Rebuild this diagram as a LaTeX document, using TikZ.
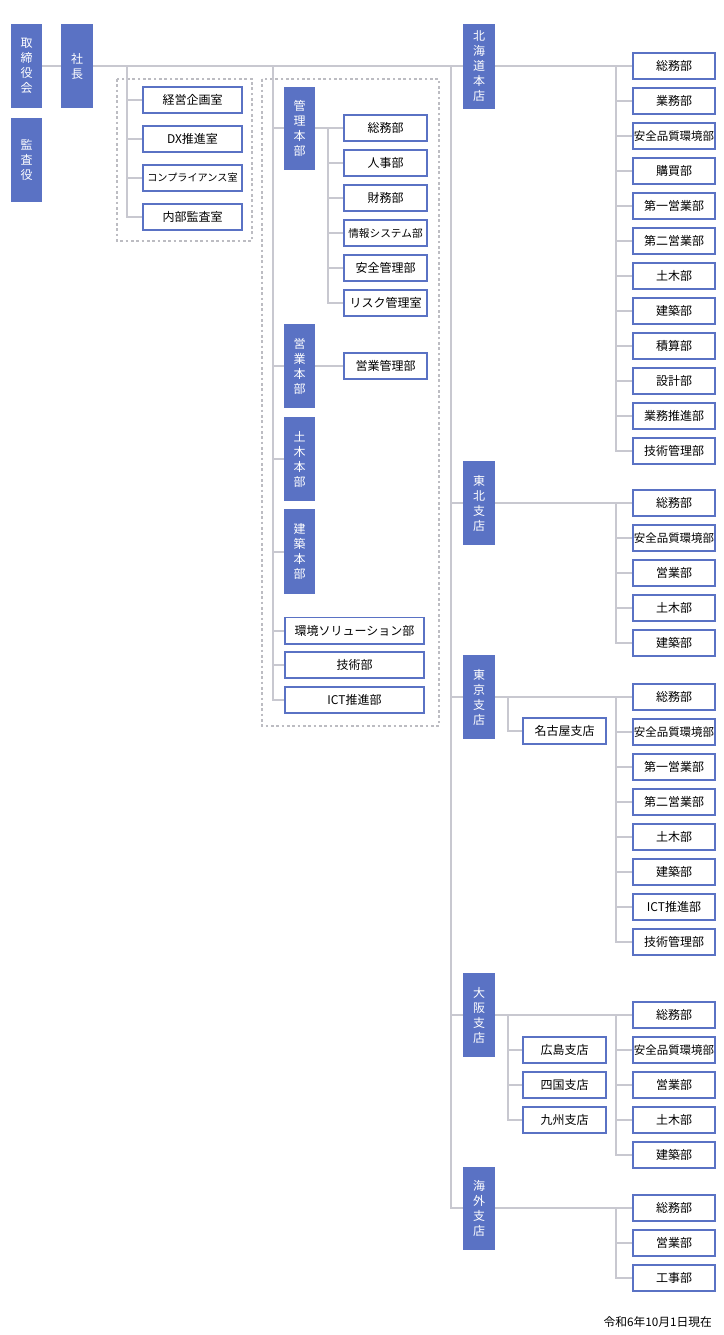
\documentclass[tikz,border=0pt]{standalone}
\usepackage{fontspec}
\setmainfont{Noto Sans CJK JP}
\definecolor{bblue}{HTML}{5A72C4}
\definecolor{lgray}{HTML}{C8C8D0}
\definecolor{dgray}{HTML}{BCBCC2}
\tikzset{
  vbox/.style={fill=bblue, draw=none, text=white, inner sep=0pt, align=center,
    font=\fontsize{9}{11.25}\selectfont},
  wbox/.style={fill=white, draw=bblue, line width=1.3pt, inner sep=0pt,
    font=\fontsize{9}{10}\selectfont},
  ln/.style={draw=lgray, line width=1.5pt},
  grp/.style={draw=dgray, line width=1pt, dash pattern=on 2pt off 2pt},
}
% vertical blue box: name, x1, y1, x2, y2, text
\newcommand\VBx[6]{\node[vbox, minimum width={(#4-#2)*0.75pt}, minimum height={(#5-#3)*0.75pt}]
  (#1) at ({(#2+#4)/2},{(#3+#5)/2}) {#6};}
% white box: name, cx, cy, width(px), text
\newcommand\WBx[5]{\node[wbox, minimum width={#4*0.75pt-1.3pt}, minimum height={28*0.75pt-1.3pt}]
  (#1) at (#2,#3) {#5};}
\begin{document}
\begin{tikzpicture}[x=0.75pt,y=-0.75pt]
\useasboundingbox (0,0) rectangle (724,1335);
% dashed group frames
\draw[grp] (117,79) rectangle (252,241);
\draw[grp] (262,79) rectangle (439,726);

% ---------- nodes ----------
\VBx{tori}{11}{24}{42}{108}{取\\締\\役\\会}
\VBx{kansa}{11}{118}{42}{202}{監\\査\\役}
\VBx{shacho}{61}{24}{93}{108}{社\\長}

\WBx{s1}{192.5}{100}{101}{経営企画室}
\WBx{s2}{192.5}{139}{101}{DX推進室}
\WBx{s3}{192.5}{178}{101}{\fontsize{7.6}{9}\selectfont コンプライアンス室}
\WBx{s4}{192.5}{217}{101}{内部監査室}

\VBx{kanri}{284}{87}{315}{170}{管\\理\\本\\部}
\VBx{eigyo}{284}{324}{315}{408}{営\\業\\本\\部}
\VBx{doboku}{284}{417}{315}{501}{土\\木\\本\\部}
\VBx{kenchiku}{284}{509}{315}{594}{建\\築\\本\\部}
\WBx{kankyo}{354.5}{630.5}{141}{環境ソリューション部}
\WBx{gijutsu}{354.5}{665}{141}{技術部}
\WBx{ict}{354.5}{700}{141}{ICT推進部}

\WBx{k1}{385.5}{128}{85}{総務部}
\WBx{k2}{385.5}{163}{85}{人事部}
\WBx{k3}{385.5}{198}{85}{財務部}
\WBx{k4}{385.5}{233}{85}{\fontsize{8}{9}\selectfont 情報システム部}
\WBx{k5}{385.5}{268}{85}{安全管理部}
\WBx{k6}{385.5}{303}{85}{リスク管理室}
\WBx{e1}{385.5}{366}{85}{営業管理部}

\VBx{hokkaido}{463}{24}{495}{109}{北\\海\\道\\本\\店}
\VBx{tohoku}{463}{461}{495}{545}{東\\北\\支\\店}
\VBx{tokyo}{463}{655}{495}{739}{東\\京\\支\\店}
\VBx{osaka}{463}{973}{495}{1057}{大\\阪\\支\\店}
\VBx{kaigai}{463}{1167}{495}{1250}{海\\外\\支\\店}

% Hokkaido departments
\WBx{h1}{674}{66}{84}{総務部}
\WBx{h2}{674}{101}{84}{業務部}
\WBx{h3}{674}{136}{84}{\fontsize{8.6}{10}\selectfont 安全品質環境部}
\WBx{h4}{674}{171}{84}{購買部}
\WBx{h5}{674}{206}{84}{第一営業部}
\WBx{h6}{674}{241}{84}{第二営業部}
\WBx{h7}{674}{276}{84}{土木部}
\WBx{h8}{674}{311}{84}{建築部}
\WBx{h9}{674}{346}{84}{積算部}
\WBx{h10}{674}{381}{84}{設計部}
\WBx{h11}{674}{416}{84}{業務推進部}
\WBx{h12}{674}{451}{84}{技術管理部}

% Tohoku
\WBx{t1}{674}{503}{84}{総務部}
\WBx{t2}{674}{538}{84}{\fontsize{8.6}{10}\selectfont 安全品質環境部}
\WBx{t3}{674}{573}{84}{営業部}
\WBx{t4}{674}{608}{84}{土木部}
\WBx{t5}{674}{643}{84}{建築部}

% Tokyo
\WBx{nagoya}{564.5}{731}{85}{名古屋支店}
\WBx{tk1}{674}{697}{84}{総務部}
\WBx{tk2}{674}{732}{84}{\fontsize{8.6}{10}\selectfont 安全品質環境部}
\WBx{tk3}{674}{767}{84}{第一営業部}
\WBx{tk4}{674}{802}{84}{第二営業部}
\WBx{tk5}{674}{837}{84}{土木部}
\WBx{tk6}{674}{872}{84}{建築部}
\WBx{tk7}{674}{907}{84}{ICT推進部}
\WBx{tk8}{674}{942}{84}{技術管理部}

% Osaka
\WBx{hiroshima}{564.5}{1050}{85}{広島支店}
\WBx{shikoku}{564.5}{1085}{85}{四国支店}
\WBx{kyushu}{564.5}{1120}{85}{九州支店}
\WBx{o1}{674}{1015}{84}{総務部}
\WBx{o2}{674}{1050}{84}{\fontsize{8.6}{10}\selectfont 安全品質環境部}
\WBx{o3}{674}{1085}{84}{営業部}
\WBx{o4}{674}{1120}{84}{土木部}
\WBx{o5}{674}{1155}{84}{建築部}

% Overseas
\WBx{g1}{674}{1208}{84}{総務部}
\WBx{g2}{674}{1243}{84}{営業部}
\WBx{g3}{674}{1278}{84}{工事部}

\node[anchor=east, inner sep=0pt, font=\fontsize{8.8}{10}\selectfont] (date) at (712,1322) {令和6年10月1日現在};

% ---------- connectors ----------
\coordinate (mS) at (127,66);
\coordinate (mM) at (273,66);
\coordinate (mB) at (451,66);
\draw[ln] (tori.east |- 0,66) -- (shacho.west |- 0,66);
\draw[ln] (shacho.east |- 0,66) -- (hokkaido.west |- 0,66);
\draw[ln] (hokkaido.east |- 0,66) -- (h1.west);
% staff
\draw[ln] (mS) |- (s4.west);
\foreach \n in {s1,s2,s3} \draw[ln] (mS |- \n.west) -- (\n.west);
% middle
\draw[ln] (mM) |- (ict.west);
\foreach \n in {gijutsu,kankyo} \draw[ln] (mM |- \n.west) -- (\n.west);
\draw[ln] (mM |- 0,128) -- (kanri.west |- 0,128);
\draw[ln] (mM |- eigyo.west) -- (eigyo.west);
\draw[ln] (mM |- doboku.west) -- (doboku.west);
\draw[ln] (mM |- kenchiku.west) -- (kenchiku.west);
\coordinate (kv) at (328,128);
\draw[ln] (kanri.east |- k1.west) -- (k1.west);
\draw[ln] (kv) |- (k6.west);
\foreach \n in {k2,k3,k4,k5} \draw[ln] (kv |- \n.west) -- (\n.west);
\draw[ln] (eigyo.east |- e1.west) -- (e1.west);
% branch trunk
\draw[ln] (mB) |- (kaigai.west |- g1.west);
\draw[ln] (mB |- t1.west) -- (tohoku.west |- t1.west);
\draw[ln] (mB |- tk1.west) -- (tokyo.west |- tk1.west);
\draw[ln] (mB |- o1.west) -- (osaka.west |- o1.west);
% right verticals
\coordinate (rv) at (616,0);
\draw[ln] (rv |- h1.west) -- (rv |- h12.west) -- (h12.west);
\foreach \n in {h2,h3,h4,h5,h6,h7,h8,h9,h10,h11} \draw[ln] (rv |- \n.west) -- (\n.west);
\draw[ln] (tohoku.east |- t1.west) -- (t1.west);
\draw[ln] (rv |- t1.west) |- (t5.west);
\foreach \n in {t2,t3,t4} \draw[ln] (rv |- \n.west) -- (\n.west);
\draw[ln] (tokyo.east |- tk1.west) -- (tk1.west);
\draw[ln] (rv |- tk1.west) |- (tk8.west);
\foreach \n in {tk2,tk3,tk4,tk5,tk6,tk7} \draw[ln] (rv |- \n.west) -- (\n.west);
\draw[ln] (osaka.east |- o1.west) -- (o1.west);
\draw[ln] (rv |- o1.west) |- (o5.west);
\foreach \n in {o2,o3,o4} \draw[ln] (rv |- \n.west) -- (\n.west);
\draw[ln] (kaigai.east |- g1.west) -- (g1.west);
\draw[ln] (rv |- g1.west) |- (g3.west);
\draw[ln] (rv |- g2.west) -- (g2.west);
% sub-branches
\coordinate (lv) at (508,0);
\draw[ln] (lv |- tk1.west) |- (nagoya.west);
\draw[ln] (lv |- o1.west) |- (kyushu.west);
\draw[ln] (lv |- hiroshima.west) -- (hiroshima.west);
\draw[ln] (lv |- shikoku.west) -- (shikoku.west);
\end{tikzpicture}
\end{document}
